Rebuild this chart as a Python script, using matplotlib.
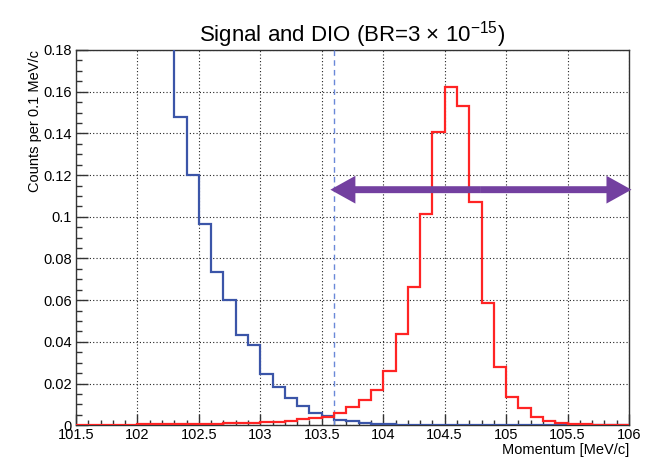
"""Signal vs DIO momentum spectrum, ROOT-style histogram."""
import numpy as np
import matplotlib
matplotlib.use("Agg")
import matplotlib.pyplot as plt
from matplotlib.ticker import MultipleLocator, FormatStrFormatter

plt.rcParams["font.family"] = ["Liberation Sans", "DejaVu Sans"]
plt.rcParams["mathtext.fontset"] = "custom"
plt.rcParams["mathtext.rm"] = "Liberation Sans"
plt.rcParams["mathtext.it"] = "Liberation Sans:italic"

# ---------- data (counts per 0.1 MeV/c) ----------
bin_w = 0.1
dio_start = 102.2
dio_counts = [0.22, 0.148, 0.120, 0.0965, 0.0734, 0.060, 0.0435, 0.0385,
              0.0245, 0.0185, 0.013, 0.0094, 0.0058, 0.0046, 0.0025, 0.0022,
              0.0010, 0.0008, 0.0005, 0.0003, 0.0002, 0.0001, 0.0, 0.0,
              0.0, 0.0, 0.0, 0.0, 0.0, 0.0, 0.0, 0.0, 0.0, 0.0, 0.0, 0.0,
              0.0, 0.0]
sig_start = 101.5
sig_counts = [0.0002, 0.0002, 0.0003, 0.0003, 0.0003, 0.0004, 0.0004, 0.0005,
              0.0005, 0.0006, 0.0007, 0.0008, 0.0009, 0.0010, 0.0012,
              0.0015, 0.0018, 0.0022, 0.0029, 0.0037, 0.0041, 0.0058, 0.0089,
              0.0121, 0.0169, 0.0262, 0.0438, 0.0662, 0.1012, 0.1408, 0.1621,
              0.1531, 0.107, 0.0585, 0.0281, 0.0134, 0.0082, 0.0041, 0.0022,
              0.0012, 0.0006, 0.0004, 0.0003, 0.0002, 0.0002]
cut_p = 103.6                 # dashed line: momentum cut
window = (103.57, 106.02)     # signal window arrow
window_y = 0.113

dio_edges = dio_start + bin_w * np.arange(len(dio_counts) + 1)
sig_edges = sig_start + bin_w * np.arange(len(sig_counts) + 1)

fig = plt.figure(figsize=(6.54, 4.65), dpi=100)
ax = fig.add_axes([0.1162, 0.0854, 0.8456, 0.8071])

ax.grid(True, which="major", color="#222222", linestyle=(0, (1, 2)), lw=0.8)
ax.set_axisbelow(True)

ax.stairs(dio_counts, dio_edges, baseline=None, color="#3b55a8", lw=1.6, zorder=3)
ax.stairs(sig_counts, sig_edges, baseline=None, color="#ff2424", lw=1.6, zorder=4)
ax.axvline(cut_p, color="#6a88d8", lw=1.0, ls=(0, (4, 3)), zorder=3)

# double arrow = two filled "simple" arrows from the middle
xm = (window[0] + window[1]) / 2
for xe in window:
    ax.annotate("", xy=(xe, window_y), xytext=(xm, window_y),
                arrowprops=dict(arrowstyle="simple,head_length=1.8,head_width=2.0,tail_width=0.5",
                                mutation_scale=10, color="#7340a0", lw=0,
                                shrinkA=0, shrinkB=0),
                annotation_clip=False, zorder=5)

ax.set_xlim(101.5, 106)
ax.set_ylim(0, 0.18)
ax.xaxis.set_major_locator(MultipleLocator(0.5))
ax.xaxis.set_minor_locator(MultipleLocator(0.1))
ax.yaxis.set_major_locator(MultipleLocator(0.02))
ax.yaxis.set_minor_locator(MultipleLocator(0.005))
ax.xaxis.set_major_formatter(FormatStrFormatter("%g"))
ax.yaxis.set_major_formatter(FormatStrFormatter("%g"))
ax.tick_params(which="both", direction="in", top=False, right=False,
               color="#333333", width=1.0, labelsize=10.5)
ax.tick_params(axis="y", which="major", length=8.5, pad=3)
ax.tick_params(axis="y", which="minor", length=4.3)
ax.tick_params(axis="x", which="major", length=8, pad=2)
ax.tick_params(axis="x", which="minor", length=3.5)
for s in ax.spines.values():
    s.set_color("#333333")
    s.set_linewidth(1.0)

ax.set_title("Signal and DIO (BR=3 × 10$^{-15}$)", fontsize=16, pad=6)
ax.set_ylabel("Counts per 0.1 MeV/c", fontsize=10.5, loc="top", labelpad=1)
ax.set_xlabel("Momentum [MeV/c]", fontsize=10.5, loc="right", labelpad=1)

fig.savefig("out.png", dpi=100)
